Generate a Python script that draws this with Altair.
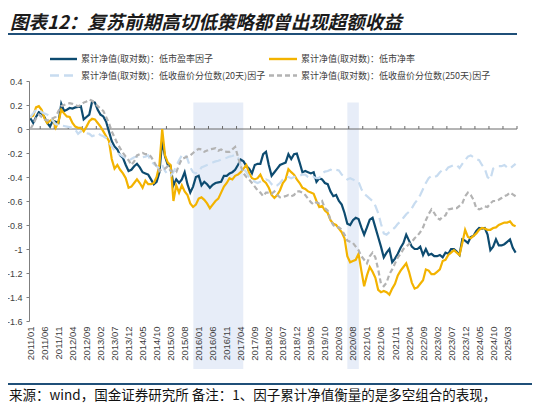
import altair as alt
import pandas as pd

# ---------------- data (monthly, 2011/01 .. 2025/06) ----------------
start_year = 2011
start_month = 1

pe = [
    0.09, 0.05, 0.10, 0.14, 0.13, 0.10, 0.05, 0.02, 0.07, 0.06, 0.05, 0.21,
    0.15, 0.16, 0.175, 0.17, 0.18, 0.185, 0.19, 0.08, 0.10, 0.12, 0.23, 0.22,
    0.16, 0.12, 0.105, 0.06, -0.02, -0.10, -0.145, -0.17, -0.22, -0.24, -0.30, -0.35,
    -0.34, -0.31, -0.29, -0.32, -0.36, -0.37, -0.38, -0.42, -0.46, -0.44, -0.36, -0.10,
    -0.23, -0.30, -0.31, -0.47, -0.42, -0.45, -0.42, -0.36, -0.46, -0.53, -0.48, -0.40,
    -0.39, -0.47, -0.44, -0.46, -0.49, -0.465, -0.45, -0.445, -0.44, -0.39, -0.39, -0.37,
    -0.36, -0.34, -0.30, -0.255, -0.27, -0.31, -0.33, -0.37, -0.30, -0.29, -0.29, -0.21,
    -0.19, -0.30, -0.39, -0.36, -0.33, -0.30, -0.29, -0.28, -0.21, -0.25, -0.21, -0.205,
    -0.28, -0.36, -0.35, -0.36, -0.37, -0.36, -0.44, -0.41, -0.42, -0.45, -0.46, -0.52,
    -0.56, -0.55, -0.60, -0.63, -0.70, -0.79, -0.80, -0.76, -0.74, -0.75, -0.82, -0.88,
    -0.82, -0.755, -0.74, -0.82, -0.90, -0.98, -1.07, -1.03, -1.00, -1.11, -1.08, -1.04,
    -0.99, -0.95, -0.88, -0.93, -0.98, -1.00, -1.00, -0.98, -1.05, -1.00, -1.05, -1.04,
    -1.06, -1.06, -1.05, -1.07, -1.03, -1.04, -1.00, -1.00, -1.02, -1.05, -0.92, -0.93,
    -0.95, -0.90, -0.89, -0.85, -0.825, -0.83, -0.825, -0.88, -1.01, -0.98, -0.92, -0.97,
    -0.97, -0.96, -0.94, -0.92, -0.99, -1.03,
]

pb = [
    0.10, 0.11, 0.18, 0.19, 0.16, 0.09, 0.05, 0.07, 0.08, 0.01, 0.06, 0.16,
    0.13, 0.105, 0.10, 0.05, 0.02, 0.01, 0.01, -0.02, 0.02, 0.065, 0.085, 0.08,
    0.05, 0.02, -0.02, -0.06, -0.10, -0.25, -0.33, -0.30, -0.34, -0.37, -0.41, -0.49,
    -0.48, -0.45, -0.42, -0.45, -0.49, -0.43, -0.46, -0.46, -0.45, -0.40, -0.30, 0.00,
    -0.22, -0.28, -0.30, -0.60, -0.47, -0.53, -0.47, -0.52, -0.55, -0.62, -0.65, -0.63,
    -0.58, -0.57, -0.59, -0.62, -0.66, -0.63, -0.60, -0.58, -0.53, -0.48, -0.45, -0.41,
    -0.42, -0.39, -0.38, -0.36, -0.33, -0.30, -0.37, -0.41, -0.42, -0.41, -0.38, -0.43,
    -0.45, -0.49, -0.55, -0.575, -0.55, -0.51, -0.45, -0.42, -0.335, -0.36, -0.38, -0.42,
    -0.45, -0.49, -0.50, -0.52, -0.53, -0.54, -0.60, -0.65, -0.64, -0.68, -0.70, -0.76,
    -0.79, -0.80, -0.83, -0.86, -0.91, -1.06, -1.11, -1.10, -1.09, -1.04, -1.18, -1.31,
    -1.22, -1.15, -1.19, -1.24, -1.34, -1.36, -1.35, -1.36, -1.38, -1.33, -1.29, -1.22,
    -1.18, -1.15, -1.12, -1.19, -1.28, -1.33, -1.32, -1.29, -1.26, -1.17, -1.18, -1.21,
    -1.21, -1.19, -1.17, -1.10, -1.09, -1.05, -1.03, -1.01, -1.03, -1.05, -0.95, -0.84,
    -0.90, -0.91, -0.89, -0.87, -0.84, -0.825, -0.83, -0.84, -0.84, -0.825, -0.82, -0.80,
    -0.79, -0.78, -0.78, -0.77, -0.80, -0.81,
]

q20 = [
    0.10, 0.13, 0.16, 0.16, 0.14, 0.13, 0.12, 0.10, 0.07, 0.04, 0.035, 0.03,
    0.025, 0.02, 0.015, 0.01, -0.005, -0.04, -0.02, -0.03, -0.035, -0.04, -0.06, -0.05,
    -0.035, -0.05, -0.06, -0.075, -0.11, -0.145, -0.18, -0.20, -0.215, -0.23, -0.245, -0.26,
    -0.25, -0.235, -0.23, -0.225, -0.235, -0.23, -0.22, -0.27, -0.29, -0.31, -0.33, -0.30,
    -0.35, -0.38, -0.39, -0.36, -0.31, -0.26, -0.22, -0.21, -0.25, -0.32, -0.36, -0.37,
    -0.36, -0.32, -0.31, -0.30, -0.29, -0.28, -0.27, -0.265, -0.255, -0.245, -0.24, -0.23,
    -0.225, -0.215, -0.24, -0.30, -0.33, -0.36, -0.40, -0.42, -0.44, -0.45, -0.44, -0.43,
    -0.42, -0.43, -0.46, -0.48, -0.47, -0.45, -0.42, -0.40, -0.40, -0.41, -0.40, -0.395,
    -0.39, -0.38, -0.38, -0.40, -0.41, -0.40, -0.41, -0.41, -0.37, -0.355, -0.35, -0.34,
    -0.35, -0.34, -0.345, -0.38, -0.40, -0.42, -0.41, -0.42, -0.435, -0.44, -0.50, -0.54,
    -0.56, -0.58, -0.60, -0.64, -0.70, -0.79, -0.87, -0.88, -0.86, -0.84, -0.82, -0.79,
    -0.77, -0.74, -0.71, -0.69, -0.66, -0.62, -0.59, -0.55, -0.50, -0.45, -0.41, -0.39,
    -0.40, -0.39, -0.36, -0.34, -0.35, -0.32, -0.31, -0.30, -0.30, -0.325, -0.29, -0.26,
    -0.23, -0.22, -0.235, -0.25, -0.26, -0.30, -0.33, -0.40, -0.42, -0.33, -0.32, -0.31,
    -0.31, -0.30, -0.32, -0.33, -0.31, -0.29,
]

q250 = [
    0.00, 0.04, 0.09, 0.12, 0.10, 0.08, 0.07, 0.08, 0.09, 0.10, 0.15, 0.19,
    0.20, 0.21, 0.215, 0.21, 0.20, 0.19, 0.20, 0.22, 0.23, 0.245, 0.235, 0.215,
    0.19, 0.17, 0.15, 0.10, 0.05, -0.02, -0.07, -0.12, -0.16, -0.20, -0.23, -0.26,
    -0.30, -0.27, -0.22, -0.21, -0.20, -0.21, -0.21, -0.23, -0.27, -0.31, -0.35, -0.33,
    -0.33, -0.31, -0.35, -0.36, -0.36, -0.30, -0.25, -0.24, -0.23, -0.22, -0.20, -0.18,
    -0.165, -0.17, -0.19, -0.18, -0.17, -0.165, -0.16, -0.18, -0.17, -0.185, -0.19, -0.19,
    -0.17, -0.15, -0.23, -0.31, -0.37, -0.40, -0.42, -0.45, -0.48, -0.51, -0.53, -0.56,
    -0.53, -0.53, -0.54, -0.52, -0.55, -0.57, -0.565, -0.56, -0.55, -0.56, -0.55, -0.52,
    -0.52, -0.53, -0.55, -0.58, -0.61, -0.63, -0.61, -0.62, -0.60, -0.66, -0.68, -0.76,
    -0.80, -0.82, -0.82, -0.84, -0.88, -0.93, -0.94, -0.95, -0.98, -1.01, -1.06, -1.09,
    -1.12, -1.06, -1.03, -1.07, -1.17, -1.29, -1.31, -1.28, -1.21, -1.17, -1.12, -1.07,
    -1.04, -1.00, -0.98, -0.96, -0.94, -0.91, -0.89, -0.86, -0.82, -0.76, -0.71, -0.67,
    -0.70, -0.74, -0.755, -0.73, -0.72, -0.67, -0.665, -0.66, -0.66, -0.64, -0.62, -0.56,
    -0.53, -0.55, -0.59, -0.66, -0.67, -0.66, -0.645, -0.65, -0.62, -0.60, -0.60, -0.59,
    -0.575, -0.56, -0.55, -0.53, -0.545, -0.56,
]

series_names = [
    "累计净值(取对数)：低市盈率因子",
    "累计净值(取对数)：低市净率",
    "累计净值(取对数)：低收盘价分位数(20天)因子",
    "累计净值(取对数)：低收盘价分位数(250天)因子",
]
series_values = [pe, pb, q20, q250]

# shaded periods (month index, 0 = 2011/01)
band_start = [58.1, 113.0]
band_end = [75.9, 117.1]
band_top = [0.22, 0.22]

y_ticks = [0.4, 0.2, 0, -0.2, -0.4, -0.6, -0.8, -1, -1.2, -1.4, -1.6]
x_label_months = list(range(0, 174, 5))
x_tick_months = [m + 3.5 for m in range(0, 171, 5)]

title_text = "图表12：复苏前期高切低策略都曾出现超额收益"
footer_text = "来源：wind，国金证券研究所 备注：1、因子累计净值衡量的是多空组合的表现，"

# ---------------- styles ----------------
colors = ["#0d4b70", "#f3b300", "#c8dcf0", "#b3b3b3"]
dashes = [None, None, [9, 5], [5, 3]]
W, H = 488, 240
XDOM = [-0.5, 173.5]
YDOM = [-1.6, 0.4]
FONT = "Noto Sans CJK SC"
AXF = "Liberation Sans"

rows = []
for name, vals in zip(series_names, series_values):
    for i, v in enumerate(vals):
        rows.append({"m": i, "v": v, "s": name})
df = pd.DataFrame(rows)

xs = alt.Scale(domain=XDOM, nice=False, zero=False)
ys = alt.Scale(domain=YDOM, nice=False, zero=False)

label_expr = "timeFormat(datetime(%d, %d + datum.value, 1), '%%Y/%%m')" % (start_year, start_month - 1)

X_AX = alt.Axis(
    values=x_label_months, labelExpr=label_expr, labelAngle=270,
    labelAlign="right", labelBaseline="middle", labelPadding=5,
    labelOverlap=False, labelFont=AXF, labelFontSize=9.5, labelColor="#404040",
    domain=False, ticks=False, grid=False, title=None, zindex=1)
Y_AX = alt.Axis(
    values=y_ticks, labelExpr="'' + datum.value", labelFont=AXF,
    labelFontSize=9, labelColor="#404040", labelPadding=4, labelOverlap=False,
    domain=True, domainColor="#7f7f7f", domainWidth=1,
    ticks=True, tickSize=3, tickColor="#7f7f7f", grid=False, title=None, zindex=1)

# shaded bands
bands = alt.Chart(pd.DataFrame({"a": band_start, "b": band_end, "t": band_top})).mark_rect(
    color="#e7edf8"
).encode(
    x=alt.X("a:Q", scale=xs, axis=X_AX),
    x2="b:Q",
    y=alt.Y("t:Q", scale=ys, axis=Y_AX),
    y2=alt.value(288),
)

# zero line and its tick marks
zero_line = alt.Chart(pd.DataFrame({"y": [0]})).mark_rule(color="#6b6b6b", strokeWidth=1).encode(
    y=alt.Y("y:Q", scale=ys, axis=Y_AX), x=alt.value(0), x2=alt.value(W)
)
zero_ticks = alt.Chart(pd.DataFrame({"m": x_tick_months, "y0": [0] * len(x_tick_months),
                                     "y1": [0.025] * len(x_tick_months)})).mark_rule(
    color="#6b6b6b", strokeWidth=1
).encode(x=alt.X("m:Q", scale=xs, axis=X_AX), y=alt.Y("y0:Q", scale=ys, axis=Y_AX), y2="y1:Q")

line_layers = []
for name, col, dash in zip(series_names, colors, dashes):
    kw = dict(color=col, strokeWidth=2.2, clip=True)
    if dash is not None:
        kw["strokeDash"] = dash
    line_layers.append(
        alt.Chart(df).transform_filter(alt.datum.s == name).mark_line(**kw).encode(
            x=alt.X("m:Q", scale=xs, axis=X_AX), y=alt.Y("v:Q", scale=ys, axis=Y_AX)
        )
    )

# legend (manual)
leg_pos = [(21, 48, -22), (240, 268, -22), (21, 48, -5.5), (240, 268, -5.5)]
legend_layers = []
for (x0, x1, yy), name, col, dash in zip(leg_pos, series_names, colors, dashes):
    kw = dict(color=col, strokeWidth=2.4)
    if dash is not None:
        kw["strokeDash"] = dash
    legend_layers.append(
        alt.Chart(pd.DataFrame({"k": [0]})).mark_rule(**kw).encode(
            x=alt.value(x0), x2=alt.value(x1), y=alt.value(yy))
    )
    legend_layers.append(
        alt.Chart(pd.DataFrame({"t": [name]})).mark_text(
            align="left", baseline="middle", font=FONT, fontSize=9, color="#404040"
        ).encode(x=alt.value(x1 + 4), y=alt.value(yy), text="t:N")
    )

title = alt.Chart(pd.DataFrame({"t": [title_text]})).mark_text(
    align="left", baseline="middle", font=FONT, fontSize=18.5, fontWeight="bold",
    fontStyle="italic", color="#1b1b1b"
).encode(x=alt.value(-19), y=alt.value(-58.5), text="t:N")

title_rule = alt.Chart(pd.DataFrame({"k": [0]})).mark_rule(color="#1f4f78", strokeWidth=2).encode(
    x=alt.value(-21), x2=alt.value(488), y=alt.value(-47)
)
footer_rule = alt.Chart(pd.DataFrame({"k": [0]})).mark_rule(color="#1f4f78", strokeWidth=2).encode(
    x=alt.value(-21), x2=alt.value(504), y=alt.value(303)
)
footer = alt.Chart(pd.DataFrame({"t": [footer_text]})).mark_text(
    align="left", baseline="middle", font=FONT, fontSize=13.5, color="#111111"
).encode(x=alt.value(-20), y=alt.value(314.5), text="t:N")

chart = alt.layer(
    bands, zero_line, zero_ticks, *line_layers, *legend_layers,
    title, title_rule, footer_rule, footer
).properties(
    width=W, height=H,
    background="white",
    autosize=alt.AutoSizeParams(type="none"),
    padding={"left": 21, "top": 73, "right": 15, "bottom": 86},
).configure_view(stroke=None).configure_axis(labelOverlap=False)

chart.save("out.html", embed_options={"renderer": "svg", "actions": False})
